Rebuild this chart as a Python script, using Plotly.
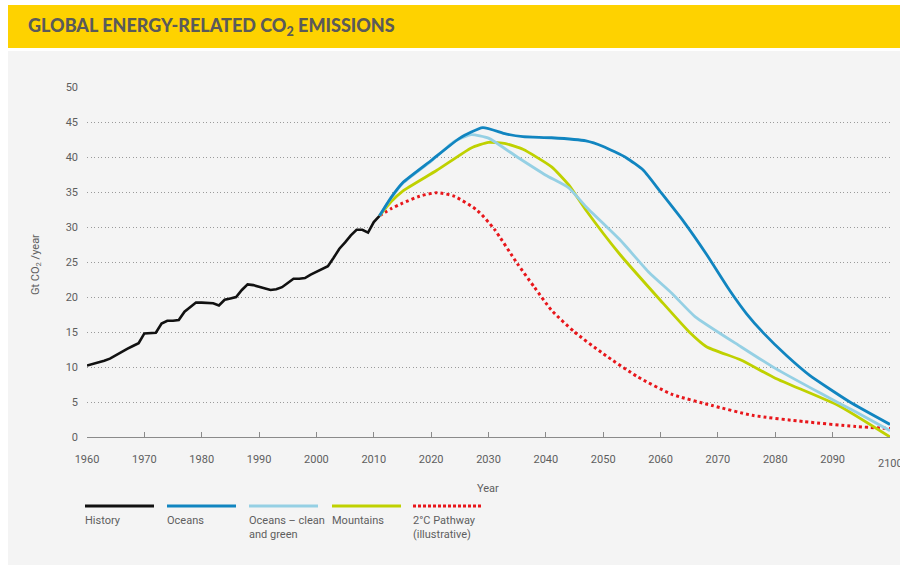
import plotly.graph_objects as go

# ---------------- data ----------------
hist_years = list(range(1960, 2012))
hist_values = [10.2, 10.4, 10.6, 10.9, 11.2, 11.7, 12.2, 12.6, 13.0, 13.4,
               14.8, 14.8, 14.9, 16.2, 16.6, 16.6, 16.7, 17.9, 18.6, 19.2,
               19.2, 19.2, 19.1, 18.8, 19.6, 19.8, 20.0, 21.0, 21.8, 21.7,
               21.5, 21.3, 21.0, 21.1, 21.4, 22.0, 22.6, 22.6, 22.7, 23.2,
               23.6, 24.0, 24.4, 25.6, 26.9, 27.8, 28.8, 29.6, 29.6, 29.2,
               30.7, 31.6]

oceans_years = [2011, 2013, 2015, 2020, 2025, 2029, 2033, 2036, 2041, 2047, 2050,
                2054, 2057, 2060, 2064, 2068, 2072, 2075, 2078, 2082, 2086, 2093, 2100]
oceans_values = [31.6, 34.2, 36.3, 39.5, 42.7, 44.2, 43.3, 42.9, 42.75, 42.3, 41.5,
                 39.9, 38.1, 35.0, 30.8, 26.1, 21.0, 17.6, 14.8, 11.6, 8.8, 5.0, 1.8]

green_years = [2011, 2013, 2015, 2020, 2024, 2027, 2030, 2035, 2040, 2044, 2047,
               2053, 2058, 2062, 2066, 2074, 2080, 2088, 2094, 2100]
green_values = [31.6, 34.1, 36.2, 39.4, 42.2, 43.2, 42.7, 40.0, 37.4, 35.6, 32.9,
                28.1, 23.5, 20.5, 17.2, 12.9, 9.8, 6.2, 3.6, 0.9]

mount_years = [2011, 2013, 2015, 2021, 2027, 2030, 2033, 2036, 2041, 2044, 2047,
               2053, 2060, 2065, 2068, 2074, 2080, 2091, 2100]
mount_values = [31.6, 33.6, 35.1, 38.1, 41.3, 42.1, 41.9, 41.1, 38.6, 36.0, 32.4,
                26.0, 19.5, 15.0, 12.9, 11.0, 8.4, 4.5, 0.0]

path_years = [2011, 2013, 2015, 2018, 2021, 2024, 2028, 2031, 2035, 2038,
              2041, 2045, 2050, 2056, 2062, 2069, 2076, 2085, 2094, 2100]
path_values = [31.6, 32.6, 33.4, 34.4, 34.9, 34.4, 32.4, 29.7, 24.8, 21.4,
               18.1, 15.0, 11.9, 8.6, 6.1, 4.5, 3.1, 2.2, 1.5, 1.2]

x_ticks = list(range(1960, 2101, 10))
x_tick_labels = [str(v) for v in x_ticks]
y_ticks = list(range(0, 51, 5))

legend_labels = ["History", "Oceans", "Oceans \u2013 clean<br>and green", "Mountains",
                 "2\u00b0C Pathway<br>(illustrative)"]

# ---------------- styles ----------------
C_HIST = "#111111"
C_OCEANS = "#1185c0"
C_GREEN = "#95d0e4"
C_MOUNT = "#bfd100"
C_PATH = "#e8161b"
TXT = "#5e5e5e"
FONT = "Roboto"

W, H = 900, 565
L, R, T, B = 87, 10, 87, 128
PW, PH = W - L - R, H - T - B


def px(x):  # screen x -> paper
    return (x - L) / PW


def py(y):  # screen y -> paper
    return (H - B - y) / PH


fig = go.Figure()
fig.add_trace(go.Scatter(x=hist_years, y=hist_values, mode="lines",
                         line=dict(color=C_HIST, width=2.6), name="History"))
fig.add_trace(go.Scatter(x=path_years, y=path_values, mode="lines",
                         line=dict(color=C_PATH, width=3, dash="3px,3px", shape="spline", smoothing=0.6),
                         name="2\u00b0C Pathway"))
fig.add_trace(go.Scatter(x=mount_years, y=mount_values, mode="lines",
                         line=dict(color=C_MOUNT, width=2.8, shape="spline", smoothing=0.5),
                         name="Mountains"))
fig.add_trace(go.Scatter(x=green_years, y=green_values, mode="lines",
                         line=dict(color=C_GREEN, width=2.8, shape="spline", smoothing=0.5),
                         name="Oceans \u2013 clean and green"))
fig.add_trace(go.Scatter(x=oceans_years, y=oceans_values, mode="lines",
                         line=dict(color=C_OCEANS, width=2.8, shape="spline", smoothing=0.5),
                         name="Oceans"))

shapes = [
    dict(type="rect", xref="paper", yref="paper", x0=px(8), x1=px(900), y0=py(51), y1=py(565),
         fillcolor="#f4f4f4", line=dict(width=0), layer="below"),
    dict(type="rect", xref="paper", yref="paper", x0=px(8), x1=px(900), y0=py(5), y1=py(48),
         fillcolor="#fed200", line=dict(width=0), layer="below"),
]

annotations = [
    dict(text="GLOBAL ENERGY-RELATED CO<sub>2</sub> EMISSIONS", xref="paper", yref="paper",
         x=px(26), y=py(27), xanchor="left", yanchor="middle", showarrow=False,
         font=dict(family="Lato", size=18, color="#5a5a5a", weight=900)),
    dict(text="Year", xref="paper", yref="paper", x=px(488), y=py(488), xanchor="center",
         yanchor="middle", showarrow=False, font=dict(family=FONT, size=11, color=TXT)),
    dict(text="Gt CO<sub>2</sub> /year", xref="paper", yref="paper", x=px(36), y=py(265),
         xanchor="center", yanchor="middle", textangle=-90, showarrow=False,
         font=dict(family=FONT, size=11, color=TXT)),
    # last x tick label, drawn as annotation so it may run to the page edge
    dict(text=x_tick_labels[-1], xref="x", yref="paper", x=x_ticks[-1], y=py(463),
         xanchor="center", yanchor="middle", showarrow=False,
         font=dict(family=FONT, size=11, color=TXT)),
]

leg_colors = [C_HIST, C_OCEANS, C_GREEN, C_MOUNT, C_PATH]
leg_x0 = [85, 167, 249, 332, 413]
for i, (lab, col, x0) in enumerate(zip(legend_labels, leg_colors, leg_x0)):
    dash = "3px,2px" if i == 4 else "solid"
    shapes.append(dict(type="line", xref="paper", yref="paper", x0=px(x0), x1=px(x0 + 69),
                       y0=py(506), y1=py(506), line=dict(color=col, width=3, dash=dash)))
    annotations.append(dict(text=lab, xref="paper", yref="paper", x=px(x0 - 2), y=py(512),
                            xanchor="left", yanchor="top", align="left", showarrow=False,
                            font=dict(family=FONT, size=11, color=TXT)))

fig.update_layout(
    width=W, height=H,
    margin=dict(l=L, r=R, t=T, b=B),
    paper_bgcolor="white",
    plot_bgcolor="rgba(0,0,0,0)",
    showlegend=False,
    shapes=shapes,
    annotations=annotations,
    font=dict(family=FONT, size=11, color=TXT),
)
fig.update_xaxes(range=[1960, 2100], tickvals=x_ticks,
                 ticktext=x_tick_labels[:-1] + [""], showgrid=False, zeroline=False,
                 showline=True, linecolor="#8a8a8a", linewidth=1.2, ticks="inside", ticklen=5,
                 tickcolor="#8a8a8a", ticklabelstandoff=12,
                 tickfont=dict(family=FONT, size=11, color=TXT))
fig.update_yaxes(range=[0, 50], tickvals=y_ticks, showgrid=True, gridcolor="#9a9a9a",
                 griddash="1px,2.5px", gridwidth=1, zeroline=False, showline=False,
                 ticklabelstandoff=8, tickfont=dict(family=FONT, size=11, color=TXT))

fig.write_html("out.html", config={"displayModeBar": False},
               post_script="document.body.style.margin='0px';document.body.style.overflow='hidden';")
